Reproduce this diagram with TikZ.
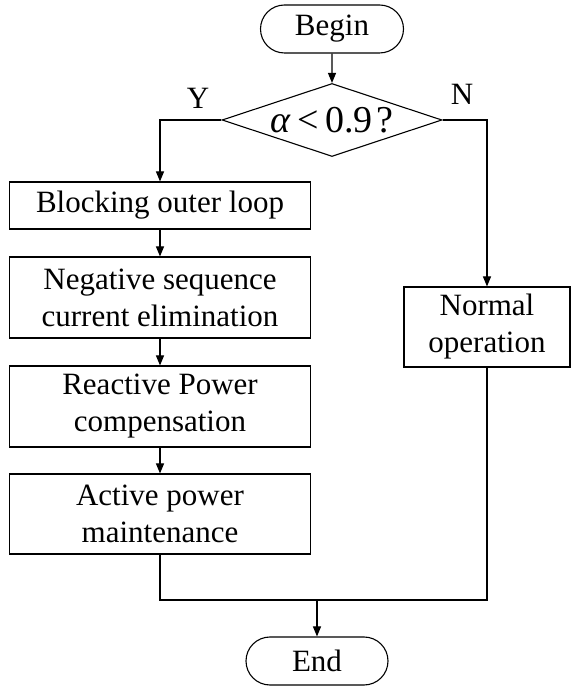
\documentclass[tikz,border=0pt]{standalone}
\usepackage{fontspec}
\setmainfont{Liberation Serif}
\usetikzlibrary{shapes.geometric,shapes.misc,arrows.meta}
\begin{document}
\begin{tikzpicture}[x=1pt,y=1pt,
  every node/.style={font=\fontsize{31}{37}\selectfont},
  procbox/.style={draw,line width=1.1pt,rectangle,align=center,inner sep=0pt,minimum width=301pt},
  term/.style={draw,line width=1.1pt,rounded rectangle,inner sep=0pt,minimum width=143pt,minimum height=48pt},
  decide/.style={draw,line width=1.1pt,diamond,aspect=3,inner sep=0pt,minimum width=220pt,minimum height=73pt},
  conn/.style={line width=1.1pt},
  arr/.style={conn,-{Triangle[length=10pt,width=8pt]}}]
\useasboundingbox (0,0) rectangle (571,686);
\node[term] (begin) at (332,657) {Begin};
\node[decide,font=\fontsize{38}{40}\selectfont] (dec) at (332,566) {{\itshape α}\hspace{0.18em}<\hspace{0.18em}0.9\hspace{0.1em}?};
\node[procbox,minimum height=47pt] (b1) at (160,480.5) {Blocking outer loop};
\node[procbox,minimum height=81pt] (b2) at (160,388.5) {Negative sequence\\current elimination};
\node[procbox,minimum height=81pt] (b3) at (160,279.5) {Reactive Power\\compensation};
\node[procbox,minimum height=80pt] (b4) at (160,172) {Active power\\maintenance};
\node[procbox,minimum width=166pt,minimum height=80pt] (norm) at (487,359) {Normal\\operation};
\node[term,minimum width=142pt] (end) at (317,25) {End};
\node (ylab) at (198,588) {Y};
\node (nlab) at (462,592) {N};
\coordinate (merge) at (317,86);
\draw[arr] (begin) -- (dec);
\draw[arr] (dec.west) -| (b1.north);
\draw[arr] (b1) -- (b2);
\draw[arr] (b2) -- (b3);
\draw[arr] (b3) -- (b4);
\draw[arr] (dec.east) -| (norm.north);
\draw[conn] (b4.south) |- (merge) -| (norm.south);
\draw[arr] (merge) -- (end.north);
\end{tikzpicture}
\end{document}
